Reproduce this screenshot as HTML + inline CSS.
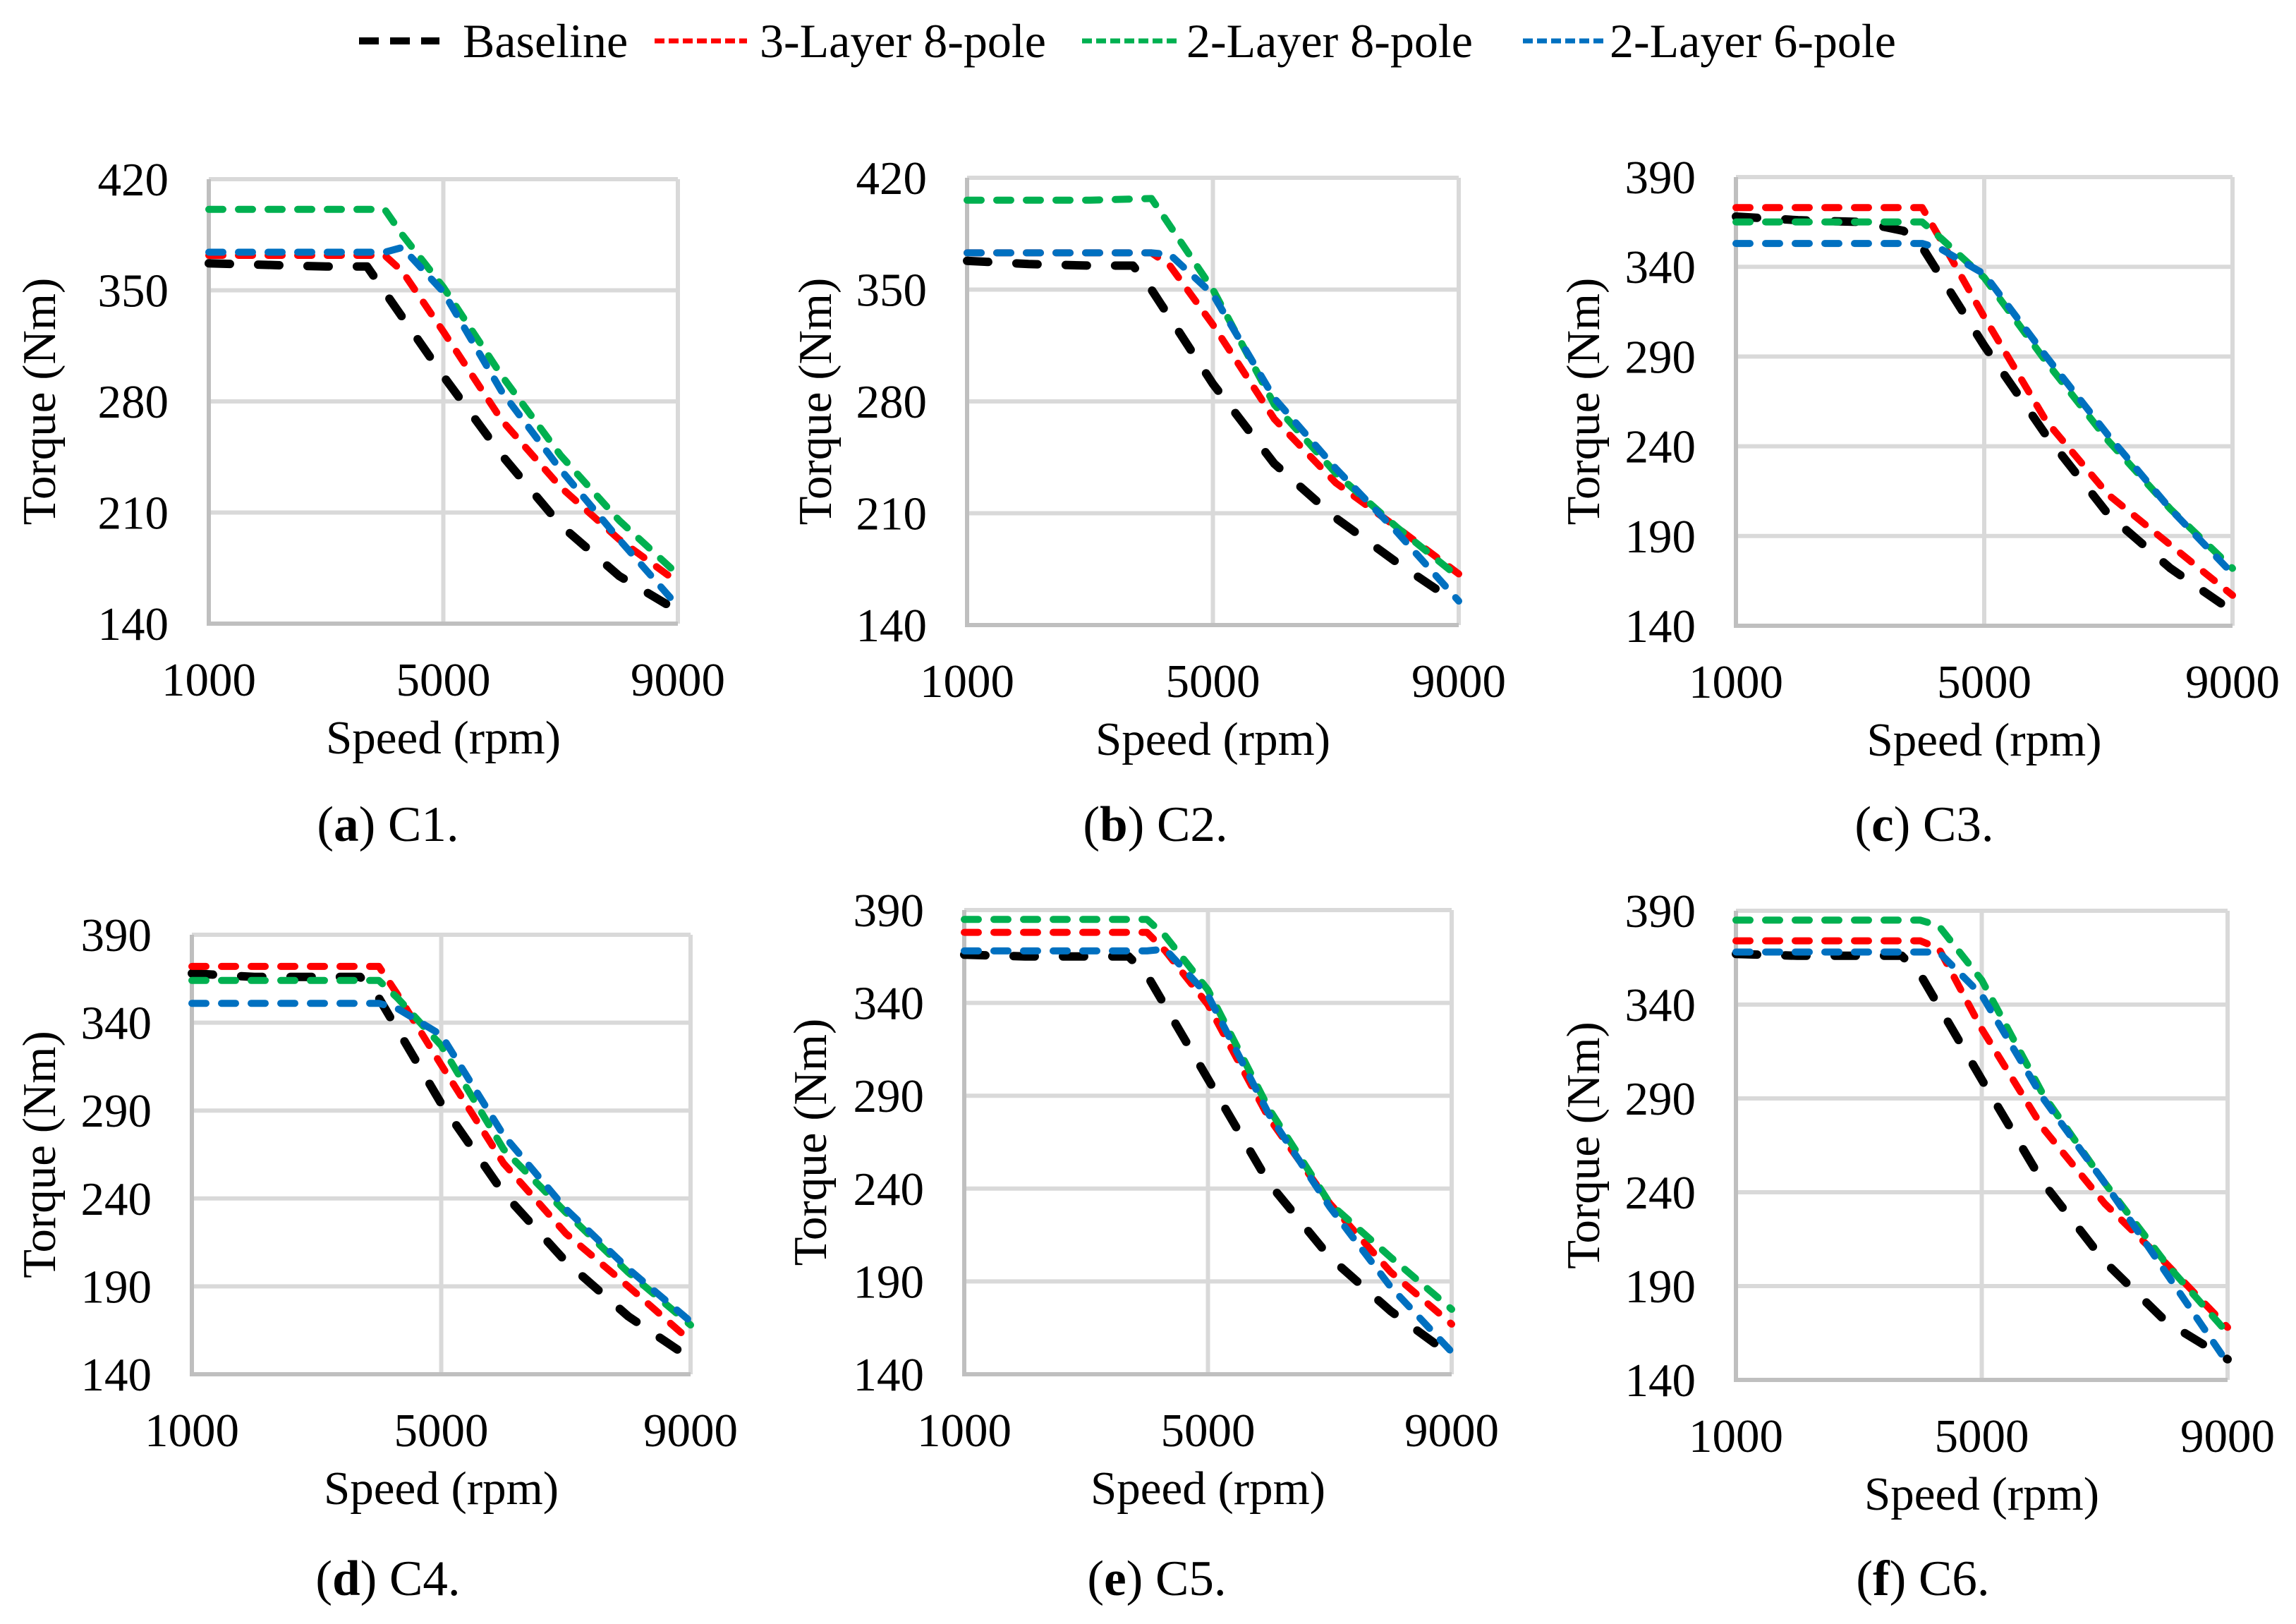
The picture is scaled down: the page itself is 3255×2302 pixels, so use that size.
<!DOCTYPE html>
<html><head><meta charset="utf-8">
<style>
html,body{margin:0;padding:0;background:#fff;}
svg{display:block;font-family:"Liberation Serif","Times New Roman",serif;}
</style></head>
<body>
<svg id="fig" width="3255" height="2302" viewBox="0 0 3255 2302" xmlns="http://www.w3.org/2000/svg">
<g>
  <g>
    <line x1="509" y1="58" x2="623" y2="58" stroke="#000" stroke-width="10" stroke-dasharray="28 16"/>
    <text x="656" y="81" font-size="68">Baseline</text>
  </g>
  <g>
    <line x1="928" y1="58" x2="1059" y2="58" stroke="#ff0000" stroke-width="7" stroke-dasharray="14 6"/>
    <text x="1077" y="81" font-size="68">3-Layer 8-pole</text>
  </g>
  <g>
    <line x1="1534" y1="58" x2="1673" y2="58" stroke="#00b050" stroke-width="7" stroke-dasharray="14 6"/>
    <text x="1682" y="81" font-size="68">2-Layer 8-pole</text>
  </g>
  <g>
    <line x1="2159" y1="58" x2="2273" y2="58" stroke="#0070c0" stroke-width="7" stroke-dasharray="14 6"/>
    <text x="2282" y="81" font-size="68">2-Layer 6-pole</text>
  </g>
</g>
</svg>
<script>
// x-axis ticks shared by all panels
const xTicks = [1000, 5000, 9000];
const seriesNames = ["Baseline", "3-Layer 8-pole", "2-Layer 8-pole", "2-Layer 6-pole"];

// Panel speeds (rpm) for each series
const speedBase = [1000, 2000, 3000, 3700, 4000, 5000, 6000, 7000, 8000, 9000];
const speedKnee = [1000, 2000, 3000, 4000, 4300, 5000, 6000, 7000, 8000, 9000];

// (a) C1
const yTicksA = [140, 210, 280, 350, 420];
const aBaseline = [367, 366, 365, 365, 349, 296, 246, 202, 170, 148];
const a3L8 = [372, 372, 372, 372, 362, 324, 268, 226, 193, 166];
const a2L8 = [401, 401, 401, 401, 385, 352, 296, 246, 205, 171];
const a2L6 = [374, 374, 374, 374, 377, 349, 286, 237, 193, 151];

// (b) C2
const yTicksB = [140, 210, 280, 350, 420];
const bBaseline = [368, 366, 365, 365, 350, 291, 241, 207, 179, 153];
const b3L8 = [373, 373, 373, 373, 365, 328, 269, 229, 201, 172];
const b2L8 = [406, 406, 406, 407, 390, 350, 278, 235, 201, 170];
const b2L6 = [373, 373, 373, 373, 372, 347, 282, 238, 198, 155];

// (c) C3
const yTicksC = [140, 190, 240, 290, 340, 390];
const cBaseline = [368, 366, 365, 360, 351, 296, 246, 202, 172, 148];
const c3L8 = [373, 373, 373, 373, 355, 312, 254, 213, 185, 157];
const c2L8 = [365, 365, 365, 365, 356, 334, 287, 243, 205, 172];
const c2L6 = [353, 353, 353, 353, 350, 336, 290, 246, 205, 169];

// (d) C4
const yTicksD = [140, 190, 240, 290, 340, 390];
const dBaseline = [368, 366, 366, 366, 354, 294, 243, 204, 173, 149];
const d3L8 = [372, 372, 372, 372, 356, 316, 260, 220, 190, 159];
const d2L8 = [364, 364, 364, 364, 354, 327, 268, 232, 198, 168];
const d2L6 = [351, 351, 351, 351, 348, 333, 276, 234, 200, 170];

// (e) C5
const yTicksE = [140, 190, 240, 290, 340, 390];
const eBaseline = [366, 365, 365, 365, 355, 299, 243, 203, 174, 150];
const e3L8 = [378, 378, 378, 378, 368, 339, 278, 232, 195, 167];
const e2L8 = [385, 385, 385, 385, 376, 347, 283, 232, 203, 175];
const e2L6 = [368, 368, 368, 368, 369, 344, 280, 230, 187, 152];

// (f) C6
const yTicksF = [140, 190, 240, 290, 340, 390];
const fBaseline = [367, 366, 366, 366, 356, 300, 245, 203, 171, 151];
const f3L8 = [374, 374, 374, 374, 370, 327, 274, 234, 202, 168];
const f2L8 = [385, 385, 385, 385, 382, 353, 292, 245, 202, 165];
const f2L6 = [368, 368, 368, 368, 368, 345, 290, 245, 197, 149];

const NS = "http://www.w3.org/2000/svg";
const svg = document.getElementById("fig");
function mk(tag, attrs, parent) {
  const e = document.createElementNS(NS, tag);
  for (const k in attrs) e.setAttribute(k, attrs[k]);
  parent.appendChild(e);
  return e;
}
const styles = [
  {color: "#000000", w: 12, dash: "30 40"},
  {color: "#ff0000", w: 10, dash: "20 22"},
  {color: "#00b050", w: 10, dash: "20 22"},
  {color: "#0070c0", w: 10, dash: "20 22"}
];
const FS = 67;

function panel(cfg) {
  const g = mk("g", {}, svg);
  
  
  const ymin = cfg.yTicks[0], ymax = cfg.yTicks[cfg.yTicks.length - 1];
  const xs = v => cfg.L + (v - xTicks[0]) / (xTicks[xTicks.length - 1] - xTicks[0]) * (cfg.R - cfg.L);
  const ys = v => cfg.B - (v - ymin) / (ymax - ymin) * (cfg.B - cfg.T);
  cfg.yTicks.forEach(t => {
    const l = mk("line", {x1: cfg.L, x2: cfg.R, y1: ys(t), y2: ys(t), stroke: "#d9d9d9", "stroke-width": 6}, g);
    
    
    const tx = mk("text", {x: cfg.L - 57, y: ys(t) + 23, "font-size": FS, "text-anchor": "end"}, g);
    
    
    tx.textContent = t;
  });
  xTicks.forEach(t => {
    const l = mk("line", {x1: xs(t), x2: xs(t), y1: cfg.T, y2: cfg.B, stroke: "#d9d9d9", "stroke-width": 6}, g);
    
    
    const tx = mk("text", {x: xs(t), y: cfg.B + 102, "font-size": FS, "text-anchor": "middle"}, g);
    
    
    tx.textContent = t;
  });
  const ax = mk("polyline", {points: `${cfg.L},${cfg.T} ${cfg.L},${cfg.B} ${cfg.R},${cfg.B}`, fill: "none", stroke: "#bfbfbf", "stroke-width": 6}, g);
  
  
  cfg.series.forEach((vals, i) => {
    const sp = i === 0 ? speedBase : speedKnee;
    const pts = vals.map((v, j) => xs(sp[j]).toFixed(1) + "," + ys(v).toFixed(1)).join(" ");
    const p = mk("polyline", {points: pts, fill: "none", stroke: styles[i].color, "stroke-width": styles[i].w,
      "stroke-dasharray": styles[i].dash, "stroke-linecap": "round", "stroke-linejoin": "round"}, g);
    
    
  });
  const xt = mk("text", {x: (cfg.L + cfg.R) / 2, y: cfg.B + 184, "font-size": FS, "text-anchor": "middle"}, g);
  
  
  xt.textContent = "Speed (rpm)";
  const cy = (cfg.T + cfg.B) / 2;
  const yt = mk("text", {x: cfg.tx, y: cy, "font-size": FS, "text-anchor": "middle", transform: `rotate(-90 ${cfg.tx} ${cy})`, "dominant-baseline": "central"}, g);
  
  
  yt.textContent = "Torque (Nm)";
  const cap = mk("text", {x: cfg.cx, y: cfg.cy + 25, "font-size": 71, "text-anchor": "middle"}, g);
  
  
  const t1 = mk("tspan", {}, cap); t1.textContent = "(";
  const t2 = mk("tspan", {"font-weight": "bold"}, cap); t2.textContent = cfg.id;
  const t3 = mk("tspan", {}, cap); t3.textContent = ") " + cfg.cap;
}

panel({id: "a", cap: "C1.", L: 296, R: 961, T: 254, B: 884, yTicks: yTicksA, tx: 56, cx: 550, cy: 1167, series: [aBaseline, a3L8, a2L8, a2L6]});
panel({id: "b", cap: "C2.", L: 1371, R: 2068, T: 252, B: 886, yTicks: yTicksB, tx: 1156, cx: 1638, cy: 1167, series: [bBaseline, b3L8, b2L8, b2L6]});
panel({id: "c", cap: "C3.", L: 2461, R: 3165, T: 251, B: 887, yTicks: yTicksC, tx: 2245, cx: 2728, cy: 1167, series: [cBaseline, c3L8, c2L8, c2L6]});
panel({id: "d", cap: "C4.", L: 272, R: 979, T: 1325, B: 1948, yTicks: yTicksD, tx: 56, cx: 550, cy: 2236, series: [dBaseline, d3L8, d2L8, d2L6]});
panel({id: "e", cap: "C5.", L: 1367, R: 2058, T: 1290, B: 1948, yTicks: yTicksE, tx: 1149, cx: 1640, cy: 2236, series: [eBaseline, e3L8, e2L8, e2L6]});
panel({id: "f", cap: "C6.", L: 2461, R: 3158, T: 1291, B: 1956, yTicks: yTicksF, tx: 2245, cx: 2726, cy: 2236, series: [fBaseline, f3L8, f2L8, f2L6]});
</script>
</body></html>
